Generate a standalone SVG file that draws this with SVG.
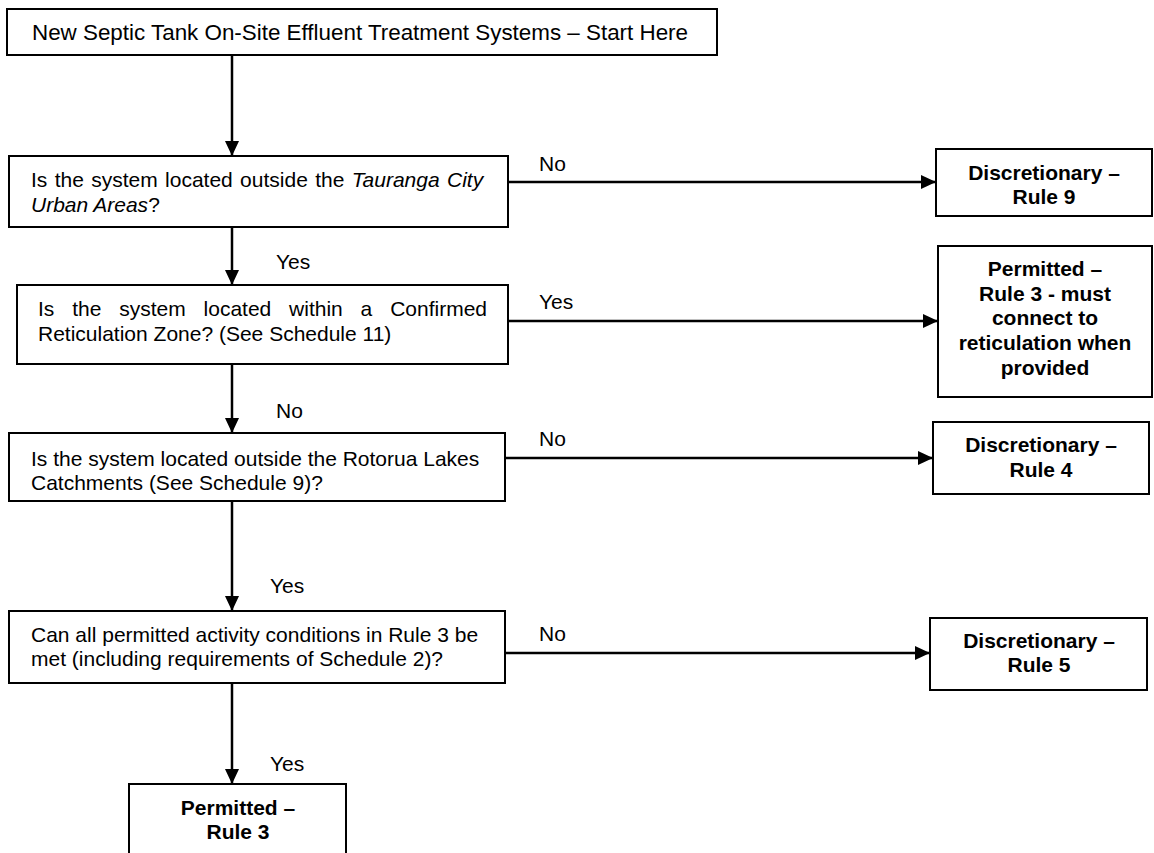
<svg xmlns="http://www.w3.org/2000/svg" width="1154" height="853" viewBox="0 0 1154 853">
<style>
.box{fill:#fff;stroke:#000;stroke-width:2}
.t{font-family:"Liberation Sans",Arial,sans-serif;font-size:21px;fill:#000}
.b{font-family:"Liberation Sans",Arial,sans-serif;font-size:21px;font-weight:bold;fill:#000;text-anchor:middle}
.c{stroke:#000;stroke-width:2.5;fill:none;marker-end:url(#ah)}
.i{font-style:italic}
</style>
<defs>
<marker id="ah" markerUnits="userSpaceOnUse" markerWidth="16" markerHeight="14" refX="15" refY="7" orient="auto">
<path d="M0,0 L15,7 L0,14 Z" fill="#000"/>
</marker>
</defs>
<rect width="1154" height="853" fill="#fff"/>
<g id="connectors">
<line class="c" x1="232" y1="55" x2="232" y2="156"/>
<line class="c" x1="232" y1="227" x2="232" y2="285"/>
<line class="c" x1="232" y1="364" x2="232" y2="433"/>
<line class="c" x1="232" y1="501" x2="232" y2="611"/>
<line class="c" x1="232" y1="683" x2="232" y2="784"/>
<line class="c" x1="508" y1="182" x2="936" y2="182"/>
<line class="c" x1="508" y1="321" x2="938" y2="321"/>
<line class="c" x1="505" y1="458" x2="933" y2="458"/>
<line class="c" x1="505" y1="653" x2="930" y2="653"/>
<text class="t" x="276" y="269">Yes</text>
<text class="t" x="276" y="418">No</text>
<text class="t" x="270" y="593">Yes</text>
<text class="t" x="270" y="771">Yes</text>
<text class="t" x="539" y="171">No</text>
<text class="t" x="539" y="309">Yes</text>
<text class="t" x="539" y="446">No</text>
<text class="t" x="539" y="641">No</text>
</g>
<g id="start">
<rect class="box" x="7" y="9" width="710" height="46"/>
<text class="t" x="32" y="40" textLength="656" lengthAdjust="spacingAndGlyphs" style="font-size:22px">New Septic Tank On-Site Effluent Treatment Systems – Start Here</text>
</g>
<g id="q1">
<rect class="box" x="9" y="156" width="499" height="71"/>
<text class="t" x="31" y="187" word-spacing="1.5">Is the system located outside the <tspan class="i">Tauranga City</tspan></text>
<text class="t" x="31" y="212"><tspan class="i">Urban Areas</tspan>?</text>
</g>
<g id="q2">
<rect class="box" x="17" y="285" width="491" height="79"/>
<text class="t" x="38" y="316" word-spacing="12">Is the system located within a Confirmed</text>
<text class="t" x="38" y="341">Reticulation Zone? (See Schedule 11)</text>
</g>
<g id="q3">
<rect class="box" x="9" y="433" width="496" height="68"/>
<text class="t" x="31" y="466">Is the system located outside the Rotorua Lakes</text>
<text class="t" x="31" y="490">Catchments (See Schedule 9)?</text>
</g>
<g id="q4">
<rect class="box" x="9" y="611" width="496" height="72"/>
<text class="t" x="31" y="642">Can all permitted activity conditions in Rule 3 be</text>
<text class="t" x="31" y="666">met (including requirements of Schedule 2)?</text>
</g>
<g id="r9">
<rect class="box" x="936" y="149" width="216" height="67"/>
<text class="b" x="1044" y="180">Discretionary –</text>
<text class="b" x="1044" y="204">Rule 9</text>
</g>
<g id="r3ret">
<rect class="box" x="938" y="246" width="214" height="151"/>
<text class="b" x="1045" y="276">Permitted –</text>
<text class="b" x="1045" y="301">Rule 3 - must</text>
<text class="b" x="1045" y="325">connect to</text>
<text class="b" x="1045" y="350">reticulation when</text>
<text class="b" x="1045" y="375">provided</text>
</g>
<g id="r4">
<rect class="box" x="933" y="422" width="216" height="72"/>
<text class="b" x="1041" y="452">Discretionary –</text>
<text class="b" x="1041" y="477">Rule 4</text>
</g>
<g id="r5">
<rect class="box" x="930" y="618" width="217" height="72"/>
<text class="b" x="1039" y="648">Discretionary –</text>
<text class="b" x="1039" y="672">Rule 5</text>
</g>
<g id="r3">
<rect class="box" x="129" y="784" width="217" height="80"/>
<text class="b" x="238" y="815">Permitted –</text>
<text class="b" x="238" y="839">Rule 3</text>
</g>
</svg>
